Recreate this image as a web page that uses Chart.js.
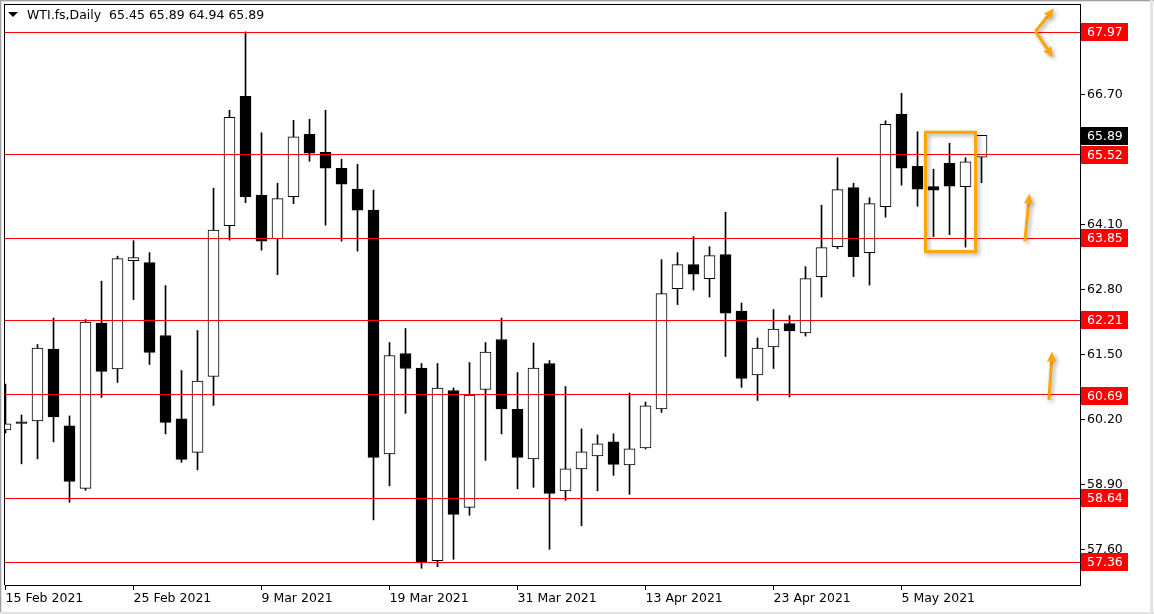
<!DOCTYPE html>
<html>
<head>
<meta charset="utf-8">
<title>WTI.fs, Daily</title>
<script src="https://cdn.jsdelivr.net/npm/chart.js@4.4.1/dist/chart.umd.min.js"></script>
<style>
    html, body { margin: 0; padding: 0; background: #fff; }
    #wrap { width: 1154px; height: 614px; }
</style>
</head>
<body>
<div id="wrap"><canvas id="wtiChart" width="1154" height="614"></canvas></div>
<script>
// ========= Data =========
const days = [
    "2021-02-15", "2021-02-16", "2021-02-17", "2021-02-18", "2021-02-19",
    "2021-02-22", "2021-02-23", "2021-02-24", "2021-02-25", "2021-02-26",
    "2021-03-01", "2021-03-02", "2021-03-03", "2021-03-04", "2021-03-05",
    "2021-03-08", "2021-03-09", "2021-03-10", "2021-03-11", "2021-03-12",
    "2021-03-15", "2021-03-16", "2021-03-17", "2021-03-18", "2021-03-19",
    "2021-03-22", "2021-03-23", "2021-03-24", "2021-03-25", "2021-03-26",
    "2021-03-29", "2021-03-30", "2021-03-31", "2021-04-01", "2021-04-05",
    "2021-04-06", "2021-04-07", "2021-04-08", "2021-04-09", "2021-04-12",
    "2021-04-13", "2021-04-14", "2021-04-15", "2021-04-16", "2021-04-19",
    "2021-04-20", "2021-04-21", "2021-04-22", "2021-04-23", "2021-04-26",
    "2021-04-27", "2021-04-28", "2021-04-29", "2021-04-30", "2021-05-03",
    "2021-05-04", "2021-05-05", "2021-05-06", "2021-05-07", "2021-05-10",
    "2021-05-11", "2021-05-12"
];
const opens = [
    59.99, 60.15, 60.17, 61.61, 60.07, 58.82, 62.13, 61.21, 63.38, 63.34,
    61.88, 60.21, 59.54, 61.06, 64.08, 66.67, 64.69, 63.82, 64.66, 65.91,
    65.55, 65.23, 64.81, 64.39, 59.51, 61.52, 61.23, 57.37, 60.78, 58.44,
    60.80, 61.80, 60.40, 59.41, 61.32, 58.77, 59.21, 59.47, 59.75, 59.29,
    59.63, 60.41, 62.82, 63.30, 63.02, 63.50, 62.37, 61.09, 61.65, 62.12,
    61.93, 63.06, 63.66, 64.84, 63.54, 64.46, 66.31, 65.27, 64.86, 65.33,
    64.86, 65.45
];
const highs = [
    60.91, 60.29, 61.70, 62.23, 60.27, 62.20, 62.97, 63.47, 63.78, 63.54,
    62.88, 61.18, 61.98, 64.83, 66.39, 67.96, 65.94, 64.93, 66.19, 66.21,
    66.39, 65.41, 65.31, 64.79, 61.74, 62.02, 61.32, 61.32, 60.83, 61.34,
    61.74, 62.23, 61.14, 61.73, 61.38, 60.86, 60.01, 59.89, 59.91, 60.73,
    60.55, 63.40, 63.54, 63.86, 63.66, 64.35, 62.53, 61.83, 62.40, 62.28,
    63.26, 64.49, 65.44, 64.93, 64.64, 66.18, 66.73, 65.96, 65.21, 65.73,
    65.44, 65.89
];
const lows = [
    59.93, 59.31, 59.41, 59.75, 58.54, 58.78, 60.64, 60.94, 62.60, 61.30,
    59.91, 59.34, 59.19, 60.48, 63.79, 64.54, 63.59, 63.10, 64.52, 65.37,
    64.09, 63.77, 63.57, 58.19, 58.87, 60.32, 57.22, 57.25, 57.40, 58.28,
    59.38, 59.91, 58.81, 58.84, 57.60, 58.58, 58.07, 58.77, 59.08, 58.70,
    59.61, 60.34, 62.50, 62.79, 62.65, 61.46, 60.84, 60.58, 61.22, 60.65,
    61.87, 62.65, 63.62, 63.06, 62.89, 64.25, 64.89, 64.47, 63.86, 63.90,
    63.65, 64.94
];
const closes = [
    60.11, 60.12, 61.63, 60.25, 58.96, 62.15, 61.16, 63.42, 63.44, 61.54,
    60.14, 59.40, 60.97, 63.99, 66.25, 64.66, 63.77, 64.62, 65.86, 65.53,
    65.23, 64.91, 64.39, 59.44, 61.48, 61.22, 57.33, 60.83, 58.30, 60.69,
    61.55, 60.41, 59.44, 61.23, 58.72, 59.21, 59.55, 59.71, 59.30, 59.61,
    60.47, 62.72, 63.30, 63.11, 63.48, 62.33, 61.02, 61.63, 62.01, 61.97,
    63.02, 63.64, 64.80, 63.46, 64.52, 66.11, 65.23, 64.81, 64.79, 64.87,
    65.36, 65.89
];

const tickDays = ["2021-02-15", "2021-02-25", "2021-03-09", "2021-03-19",
                  "2021-03-31", "2021-04-13", "2021-04-23", "2021-05-05"];
const tickLabels = ["15 Feb 2021", "25 Feb 2021", "9 Mar 2021", "19 Mar 2021",
                    "31 Mar 2021", "13 Apr 2021", "23 Apr 2021", "5 May 2021"];
const priceTicks = [57.60, 58.90, 60.20, 61.50, 62.80, 64.10, 65.40, 66.70, 68.00];

// horizontal levels drawn on the chart
const levels = [67.97, 65.52, 63.85, 62.21, 60.69, 58.64, 57.36];
const lastPrice = 65.89;
const header = "WTI.fs,Daily  65.45 65.89 64.94 65.89";

// orange drawings, in (bar index, price)
const zoneBox = { from: 57.5, to: 60.63, top: 65.95, bottom: 63.56 };
const arrows = [
    { from: [64.38, 67.97], to: [65.52, 68.43] },
    { from: [64.38, 67.97], to: [65.46, 67.45] },
    { from: [63.71, 63.77], to: [64.00, 64.72] },
    { from: [65.21, 60.59], to: [65.42, 61.56] }
];

const FONT = "DejaVu Sans";
Chart.defaults.font.family = FONT;
Chart.defaults.font.size = 12.5;
Chart.defaults.color = "#000";

const bull = closes.map((c, i) => c >= opens[i]);

// ========= Extra drawing: window frame, levels, labels, orange objects =========
const terminalLook = {
    id: "terminalLook",
    beforeDraw(chart) {
        const ctx = chart.ctx, w = chart.width, h = chart.height;
        ctx.save();
        ctx.fillStyle = "#fff";
        ctx.fillRect(0, 0, w, h);
        ctx.fillStyle = "#a0a0a0";
        ctx.fillRect(0, 0, w, 1);
        ctx.fillRect(0, 0, 1, h);
        ctx.fillStyle = "#e3e3e3";
        ctx.fillRect(1, 1, w - 1, 1);
        ctx.fillRect(1, 1, 1, h - 1);
        ctx.fillRect(0, h - 2, w, 2);
        ctx.fillRect(w - 4, 0, 3, h);
        ctx.restore();
    },
    afterDatasetsDraw(chart) {
        const ctx = chart.ctx, a = chart.chartArea;
        const x = chart.scales.x, y = chart.scales.y;
        ctx.save();
        // red levels, one pixel row each (snapped to an even row)
        ctx.fillStyle = "#ff0000";
        levels.forEach(v => {
            const py = Math.round(y.getPixelForValue(v) / 2) * 2;
            ctx.fillRect(a.left, py, a.right - a.left, 1);
        });
        // left + top frame
        ctx.fillStyle = "#000";
        ctx.fillRect(a.left - 1, a.top, 1, a.bottom - a.top);
        ctx.fillRect(a.left - 1, a.top, a.right - a.left + 1, 1);

        // orange box + arrows with a soft shadow
        ctx.shadowColor = "rgba(0,0,0,0.35)";
        ctx.shadowBlur = 4;
        ctx.shadowOffsetX = 2;
        ctx.shadowOffsetY = 2;
        ctx.strokeStyle = "#ffa500";
        ctx.fillStyle = "#ffa500";
        ctx.lineWidth = 3;
        const bx0 = x.getPixelForValue(zoneBox.from), bx1 = x.getPixelForValue(zoneBox.to);
        const by0 = y.getPixelForValue(zoneBox.top), by1 = y.getPixelForValue(zoneBox.bottom);
        ctx.strokeRect(bx0, by0, bx1 - bx0, by1 - by0);

        arrows.forEach(ar => {
            const x0 = x.getPixelForValue(ar.from[0]), y0 = y.getPixelForValue(ar.from[1]);
            const x1 = x.getPixelForValue(ar.to[0]), y1 = y.getPixelForValue(ar.to[1]);
            const ang = Math.atan2(y1 - y0, x1 - x0);
            const len = 10, half = 4.5;
            const bx = x1 - Math.cos(ang) * len, byy = y1 - Math.sin(ang) * len;
            ctx.beginPath();
            ctx.moveTo(x0, y0);
            ctx.lineTo(bx, byy);
            ctx.stroke();
            ctx.beginPath();
            ctx.moveTo(x1, y1);
            ctx.lineTo(bx + Math.sin(ang) * half, byy - Math.cos(ang) * half);
            ctx.lineTo(bx - Math.sin(ang) * half, byy + Math.cos(ang) * half);
            ctx.closePath();
            ctx.fill();
        });
        ctx.restore();
    },
    afterDraw(chart) {
        const ctx = chart.ctx, a = chart.chartArea, y = chart.scales.y;
        ctx.save();
        ctx.font = "12.5px '" + FONT + "'";
        ctx.textBaseline = "middle";
        ctx.textAlign = "left";
        const tag = (v, bg) => {
            const cy = Math.round(y.getPixelForValue(v)) + 1;
            ctx.fillStyle = bg;
            ctx.fillRect(a.right + 1, cy - 9, 47, 18);
            ctx.fillStyle = "#fff";
            ctx.fillText(v.toFixed(2), a.right + 7, cy + 0.5);
        };
        levels.forEach(v => tag(v, "#ff0000"));
        tag(lastPrice, "#000");

        // header: symbol, period, OHLC
        ctx.fillStyle = "#000";
        ctx.beginPath();
        ctx.moveTo(8, 12);
        ctx.lineTo(18, 12);
        ctx.lineTo(13, 17);
        ctx.closePath();
        ctx.fill();
        ctx.fillText(header, 27, 15.5);
        ctx.restore();
    }
};

new Chart(document.getElementById("wtiChart"), {
    type: "bar",
    data: {
        datasets: [
            {
                label: "Body",
                order: 1,
                grouped: false,
                clip: 0,
                data: days.map((d, i) => ({ x: i, y: [opens[i], closes[i]] })),
                backgroundColor: bull.map(b => b ? "#fff" : "#000"),
                borderColor: "#000",
                borderWidth: 1,
                borderSkipped: false,
                barThickness: 11
            },
            {
                label: "Wick",
                order: 2,
                grouped: false,
                clip: 0,
                data: days.map((d, i) => ({ x: i, y: [lows[i], highs[i]] })),
                backgroundColor: "#000",
                borderWidth: 0,
                barThickness: 1
            }
        ]
    },
    options: {
        responsive: false,
        animation: false,
        events: [],
        layout: { padding: { left: 5, top: 4, right: 0, bottom: 0 } },
        plugins: {
            legend: { display: false },
            tooltip: { enabled: false }
        },
        scales: {
            x: {
                type: "linear",
                offset: false,
                min: -1 / 32,
                max: -1 / 32 + 1075 / 16,
                grid: { drawOnChartArea: false, offset: false, tickLength: 5, color: "#000" },
                border: { color: "#000" },
                afterBuildTicks: s => { s.ticks = tickDays.map(d => ({ value: days.indexOf(d) })); },
                afterFit: s => { s.height = 29; s.paddingLeft = 0; s.paddingRight = 0; },
                ticks: {
                    autoSkip: false,
                    maxRotation: 0,
                    align: "start",
                    padding: 1,
                    callback: (v, k) => tickLabels[k]
                }
            },
            y: {
                position: "right",
                min: 56.885,
                max: 68.518,
                grid: { drawOnChartArea: false, tickLength: 5, color: "#000" },
                border: { color: "#000" },
                afterBuildTicks: s => { s.ticks = priceTicks.map(v => ({ value: v })); },
                afterFit: s => { s.width = 74; s.paddingTop = 0; s.paddingBottom = 0; },
                ticks: {
                    autoSkip: false,
                    padding: 2,
                    callback: v => v.toFixed(2)
                }
            }
        }
    },
    plugins: [terminalLook]
});
</script>
</body>
</html>
